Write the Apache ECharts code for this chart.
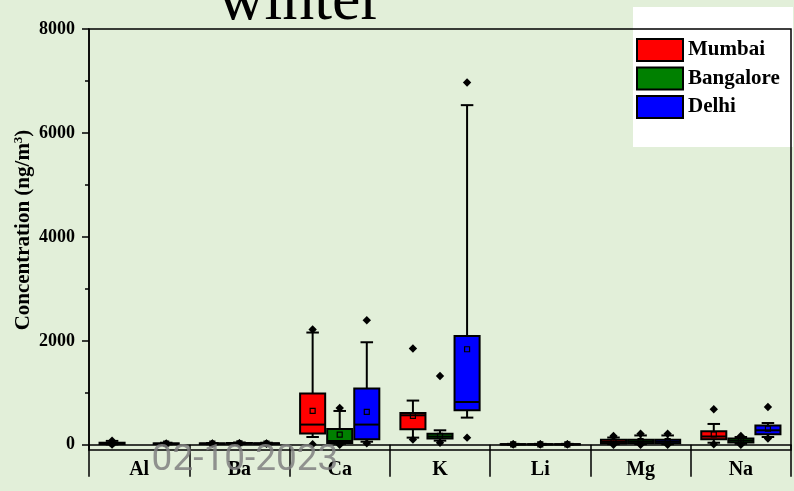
<!DOCTYPE html>
<html><head><meta charset="utf-8">
<script src="https://cdn.jsdelivr.net/npm/echarts@6/dist/echarts.min.js"></script>
<style>html,body{margin:0;padding:0;background:#E2EFD9}#c{width:794px;height:491px}</style>
</head><body><div id="c"></div>
<script>
const categories = ['Al', 'Ba', 'Ca', 'K', 'Li', 'Mg', 'Na'];
const cities = ['Mumbai', 'Bangalore', 'Delhi'];
const cityColors = ['#FF0000', '#008000', '#0000FF'];
const yLabelValues = [0, 2000, 4000, 6000, 8000];
const yMinorValues = [1000, 3000, 5000, 7000];
const titleText = 'winter';
const yTitle = 'Concentration (ng/m';
const stampText = '02-10-2023';

// per category: [whiskerLow, Q1, median, Q3, whiskerHigh, mean]; null = no box
const mumbaiStats = [
  [8, 15, 25, 40, 75, 30],
  [12, 16, 22, 28, 34, 23],
  [150, 216, 389, 986, 2160, 651],
  [138, 298, 568, 612, 851, 555],
  [3, 6, 9, 13, 18, 10],
  [12, 25, 55, 95, 140, 62],
  [40, 106, 160, 260, 401, 200]
];
const bangaloreStats = [
  null,
  [15, 20, 28, 35, 45, 30],
  [20, 35, 73, 305, 651, 196],
  [80, 119, 160, 215, 279, 170],
  [3, 6, 9, 13, 18, 10],
  [12, 30, 60, 95, 180, 70],
  [20, 42, 80, 119, 150, 85]
];
const delhiStats = [
  [10, 15, 20, 28, 40, 22],
  [12, 18, 24, 30, 40, 24],
  [60, 106, 389, 1082, 1973, 632],
  [523, 664, 824, 2095, 6535, 1838],
  [3, 6, 9, 13, 18, 10],
  [12, 30, 60, 95, 180, 70],
  [150, 202, 279, 370, 420, 312]
];
// per category: [min, max] marker points (diamonds)
const mumbaiExtremes = [[5, 80], [22, 26], [10, 2218], [100, 1852], [8, 12], [0, 170], [10, 683]];
const bangaloreExtremes = [null, [25, 32], [0, 709], [40, 1325], [8, 12], [0, 215], [0, 170]];
const delhiExtremes = [[18, 26], [20, 28], [30, 2397], [138, 6972], [8, 12], [0, 215], [120, 728]];

const statsList = [mumbaiStats, bangaloreStats, delhiStats];
const extremesList = [mumbaiExtremes, bangaloreExtremes, delhiExtremes];
const offsets = [-0.27, 0, 0.27];
const SERIF = "'Liberation Serif', 'Times New Roman', serif";

function boxRenderer(offset) {
  return function (params, api) {
    const cat = api.value(0);
    const band = api.size([1, 0])[0];
    const cx = api.coord([cat, 0])[0] + offset * band;
    const bw = band * 0.25;
    const capW = bw * 0.5;
    const Y = k => api.coord([cat, api.value(k)])[1];
    const yLo = Y(1), yQ1 = Y(2), yMed = Y(3), yQ3 = Y(4), yHi = Y(5), yMean = Y(6);
    const color = api.visual('color');
    const ls = { stroke: '#000', lineWidth: 2 };
    return { type: 'group', children: [
      { type: 'line', shape: { x1: cx, y1: yQ3, x2: cx, y2: yHi }, style: ls },
      { type: 'line', shape: { x1: cx - capW / 2, y1: yHi, x2: cx + capW / 2, y2: yHi }, style: ls },
      { type: 'line', shape: { x1: cx, y1: yQ1, x2: cx, y2: yLo }, style: ls },
      { type: 'line', shape: { x1: cx - capW / 2, y1: yLo, x2: cx + capW / 2, y2: yLo }, style: ls },
      { type: 'rect', shape: { x: cx - bw / 2, y: yQ3, width: bw, height: yQ1 - yQ3 }, style: { fill: color, stroke: '#000', lineWidth: 2 } },
      { type: 'line', shape: { x1: cx - bw / 2, y1: yMed, x2: cx + bw / 2, y2: yMed }, style: ls },
      { type: 'rect', shape: { x: cx - 2.5, y: yMean - 2.5, width: 5, height: 5 }, style: { fill: 'transparent', stroke: '#000', lineWidth: 1.2 } }
    ]};
  };
}
function diamondRenderer(offset) {
  return function (params, api) {
    const cat = api.value(0);
    const band = api.size([1, 0])[0];
    const p = api.coord([cat, api.value(1)]);
    const cx = p[0] + offset * band, cy = p[1], r = 4.2;
    return { type: 'polygon', shape: { points: [[cx, cy - r], [cx + r, cy], [cx, cy + r], [cx - r, cy]] }, style: { fill: '#000' } };
  };
}

const series = [];
cities.forEach((city, ci) => {
  const boxData = [];
  statsList[ci].forEach((s, i) => { if (s) boxData.push([i].concat(s)); });
  series.push({
    name: city, type: 'custom', itemStyle: { color: cityColors[ci] },
    renderItem: boxRenderer(offsets[ci]),
    encode: { x: 0, y: [1, 2, 3, 4, 5, 6] },
    data: boxData, z: 3
  });
});
cities.forEach((city, ci) => {
  const pts = [];
  extremesList[ci].forEach((e, i) => { if (e) e.forEach(v => pts.push([i, v])); });
  series.push({
    name: city + ' extremes', type: 'custom',
    renderItem: diamondRenderer(offsets[ci]),
    encode: { x: 0, y: 1 }, data: pts, z: 4
  });
});

const chart = echarts.init(document.getElementById('c'));
chart.setOption({
  animation: false,
  backgroundColor: '#E2EFD9',
  grid: { left: 89, right: 3, top: 29, bottom: 41, show: true, borderColor: '#000', borderWidth: 1.5, backgroundColor: 'transparent', z: 2 },
  legend: {
    data: cities, orient: 'vertical', left: 631, top: 33,
    itemWidth: 46, itemHeight: 22, itemGap: 4.5, icon: 'rect',
    itemStyle: { borderColor: '#000', borderWidth: 2 },
    textStyle: { fontFamily: SERIF, fontWeight: 'bold', fontSize: 21, color: '#000' }
  },
  xAxis: {
    type: 'category', data: categories, boundaryGap: true,
    axisLine: { lineStyle: { color: '#000', width: 1.5 } },
    axisTick: { show: true, interval: 0, length: 32, lineStyle: { color: '#000', width: 1.5 } },
    axisLabel: { interval: 0, margin: 10, fontFamily: SERIF, fontWeight: 'bold', fontSize: 20, color: '#000' },
    splitLine: { show: false }
  },
  yAxis: [{
    type: 'value', min: -100, max: 8000,
    axisLine: { show: true, lineStyle: { color: '#000', width: 1.5 } },
    axisTick: { show: true, customValues: yLabelValues, length: 7, lineStyle: { color: '#000', width: 1.5 } },
    axisLabel: { customValues: yLabelValues, formatter: v => String(v), margin: 14, fontFamily: SERIF, fontWeight: 'bold', fontSize: 18, color: '#000' },
    splitLine: { show: false }
  }, {
    type: 'value', min: -100, max: 8000, position: 'left',
    axisLine: { show: false },
    axisTick: { show: true, customValues: yMinorValues, length: 4, lineStyle: { color: '#000', width: 1.5 } },
    axisLabel: { show: false }, splitLine: { show: false }
  }],
  graphic: [
    { type: 'rect', z: -1, shape: { x: 633, y: 7, width: 160, height: 140 }, style: { fill: '#FFFFFF' } },
    { type: 'text', x: 300, y: 2.4, z: 50,
      style: { text: titleText, font: "normal 64px 'Liberation Serif'", fill: '#000', align: 'center', verticalAlign: 'middle', textAlign: 'center', textVerticalAlign: 'middle' } },
    { type: 'text', x: 24, y: 230, rotation: Math.PI / 2, z: 50,
      style: { text: '{a|' + yTitle + '}{s|3}{a|)}', fill: '#000', align: 'center', verticalAlign: 'middle',
        rich: { a: { fontFamily: SERIF, fontWeight: 'bold', fontSize: 21, fill: '#000', lineHeight: 24 },
                 s: { fontFamily: SERIF, fontWeight: 'bold', fontSize: 13, fill: '#000', verticalAlign: 'top' } } } },
    { type: 'text', x: 245, y: 461, z: 100,
      style: { text: stampText, font: "37px Roboto", fill: 'rgba(128,128,128,0.85)', align: 'center', verticalAlign: 'middle', textAlign: 'center', textVerticalAlign: 'middle' } }
  ],
  series: series
});
</script></body></html>
